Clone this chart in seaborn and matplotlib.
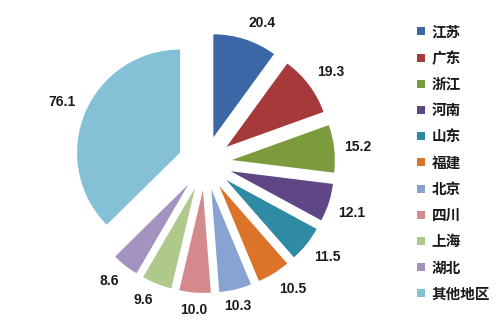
import matplotlib
matplotlib.use("Agg")
import matplotlib.pyplot as plt
import seaborn as sns
from matplotlib.lines import Line2D

regions = ["江苏", "广东", "浙江", "河南", "山东", "福建", "北京", "四川", "上海", "湖北", "其他地区"]
values = [20.4, 19.3, 15.2, 12.1, 11.5, 10.5, 10.3, 10.0, 9.6, 8.6, 76.1]
colors = ["#3B67A6", "#A63A3B", "#7B9B3C", "#5F4786", "#2F8BA4", "#DB7429",
          "#87A3D1", "#D48A8C", "#AEC98A", "#A393C1", "#84C0D6"]
value_labels = [f"{v:.1f}" for v in values]

sns.set_theme(style="white")
plt.rcParams['font.family'] = ['Noto Sans CJK SC', 'DejaVu Sans']

W, H = 500, 324
fig = plt.figure(figsize=(W / 100, H / 100), dpi=100)
fig.patch.set_facecolor("white")
ax = fig.add_axes([0, 0, 1, 1])

R = 103
cx, cy = 205, H - 163
palette = sns.color_palette(colors)
wedges, texts = ax.pie(values, colors=palette, startangle=90, counterclock=False,
                       explode=[27] * len(values), radius=R, center=(cx, cy),
                       labels=value_labels, labeldistance=1.097,
                       wedgeprops=dict(linewidth=0))
for t in texts:
    x, y = t.get_position()
    dx, dy = x - cx, y - cy
    d = (dx * dx + dy * dy) ** 0.5
    sx, sy = dx / d, dy / d
    t.set_ha("center" if abs(sx) < 0.25 else ("left" if sx > 0 else "right"))
    t.set_va("center" if abs(sy) < 0.25 else ("bottom" if sy > 0 else "top"))
    t.set_fontsize(10)
    t.set_fontweight("bold")
    t.set_family(["Liberation Sans", "DejaVu Sans"])
    t.set_color("#1a1a1a")

ax.set_xlim(0, W)
ax.set_ylim(0, H)
ax.set_aspect("equal")
ax.axis("off")

handles = [Line2D([0], [0], marker="s", linestyle="none", markersize=6,
                  markerfacecolor=c, markeredgewidth=0) for c in palette]
leg = ax.legend(handles, regions, loc="center left",
                bbox_to_anchor=(409 / W, 1 - 162.5 / H), frameon=False,
                prop=dict(size=10.5, weight="bold"), handlelength=0.7,
                handletextpad=0.35, labelspacing=0.7, borderpad=0)
for t in leg.get_texts():
    t.set_color("#1a1a1a")

fig.savefig("out.png", dpi=100)
